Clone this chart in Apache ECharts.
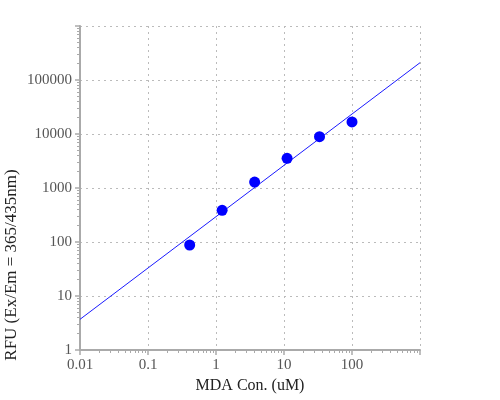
<!DOCTYPE html>
<html><head><meta charset="utf-8">
<script src="https://cdn.jsdelivr.net/npm/echarts@6/dist/echarts.min.js"></script>
<style>html,body{margin:0;padding:0;background:#fff}#c{width:500px;height:400px}</style>
</head><body><div id="c"></div>
<script>
const concentrations = [0.41, 1.23, 3.7, 11.1, 33.3, 100];
const rfuValues = [88, 386, 1290, 3550, 8900, 16700];
const fitX = [0.01, 1000];
const fitY = [3.7, 209000];
const xTitle = 'MDA Con. (uM)';
const yTitle = 'RFU (Ex/Em = 365/435nm)';

const font = '"Liberation Serif", "Times New Roman", serif';
const fmt = v => String(+(+v).toPrecision(6));
const axisCommon = {
  axisLine: {show: true, lineStyle: {color: '#aaa', width: 2}},
  axisTick: {show: true, length: 5, lineStyle: {color: '#aaa', width: 1.5}},
  minorTick: {show: true, length: 3, lineStyle: {color: '#aaa', width: 1}},
  splitLine: {show: true, lineStyle: {color: '#bbb', type: [2, 4], width: 1}},
  axisLabel: {color: '#555', fontFamily: font, fontSize: 15, margin: 8, showMaxLabel: false, formatter: fmt}
};
const chart = echarts.init(document.getElementById('c'));
chart.setOption({
  animation: false,
  grid: {left: 80, right: 80, top: 26, bottom: 50},
  xAxis: Object.assign({}, axisCommon, {
    type: 'log', min: 0.01, max: 1000, logBase: 10,
    minorTick: Object.assign({}, axisCommon.minorTick, {splitNumber: 10}),
    name: xTitle, nameLocation: 'middle', nameGap: 27,
    nameTextStyle: {color: '#222', fontFamily: font, fontSize: 16, verticalAlign: 'top'}
  }),
  yAxis: Object.assign({}, axisCommon, {
    type: 'log', min: 1, max: 1000000, logBase: 10,
    minorTick: Object.assign({}, axisCommon.minorTick, {splitNumber: 9})
  }),
  graphic: [{
    type: 'text', x: 12, y: 265, rotation: Math.PI / 2,
    style: {text: yTitle, fill: '#222', font: '17px ' + font, align: 'center', verticalAlign: 'middle'}
  }],
  series: [
    {type: 'line', data: fitX.map((x, i) => [x, fitY[i]]), showSymbol: false,
     lineStyle: {color: '#1a1aff', width: 1}, z: 2},
    {type: 'scatter', data: concentrations.map((x, i) => [x, rfuValues[i]]),
     symbolSize: 11, itemStyle: {color: '#0000ff', opacity: 1}, z: 3}
  ]
});
</script></body></html>
